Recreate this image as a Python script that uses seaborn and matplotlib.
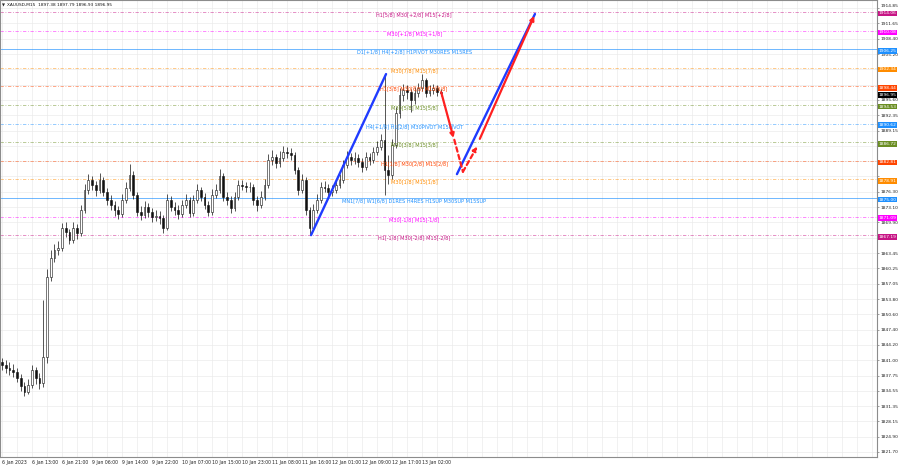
import numpy as np
import pandas as pd
import seaborn as sns
import matplotlib.pyplot as plt
from matplotlib.transforms import blended_transform_factory

sns.set_style("white")
plt.rcParams['font.family'] = ['DejaVu Sans']

# XAUUSD hourly candles (bar 0 = 6 Jan 2023)
first_open = 1840.5
closes = [1840.0, 1839.3, 1838.9, 1838.5, 1837.2, 1835.5, 1834.3, 1835.8, 1838.9, 1837.2,
          1836.2, 1841.6, 1858.5, 1862.4, 1864.1, 1864.5, 1868.7, 1867.9, 1866.2, 1868.7,
          1867.6, 1872.5, 1876.7, 1878.8, 1877.7, 1876.7, 1878.8, 1876.3, 1874.6, 1873.5,
          1872.5, 1871.6, 1874.6, 1877.1, 1879.8, 1875.6, 1872.1, 1871.4, 1873.1, 1872.1,
          1871.0, 1871.2, 1870.8, 1868.7, 1874.6, 1873.1, 1872.5, 1871.6, 1873.5, 1874.6,
          1871.9, 1874.6, 1876.7, 1875.2, 1873.5, 1872.1, 1875.6, 1876.7, 1879.6, 1875.2,
          1874.6, 1872.9, 1875.2, 1877.7, 1877.5, 1877.3, 1877.3, 1874.6, 1873.5, 1875.2,
          1877.7, 1883.0, 1883.6, 1882.3, 1883.4, 1884.6, 1884.4, 1884.0, 1880.9, 1876.7,
          1878.8, 1872.5, 1868.7, 1872.5, 1874.6, 1877.3, 1877.1, 1876.3, 1876.7, 1877.7,
          1878.8, 1881.9, 1883.6, 1883.0, 1883.4, 1882.5, 1881.5, 1883.6, 1883.0, 1884.6,
          1885.7, 1887.2, 1880.9, 1879.8, 1886.1, 1892.8, 1896.6, 1897.7, 1897.2, 1895.6,
          1897.0, 1898.1, 1899.8, 1897.0, 1897.7, 1898.1, 1897.2, 1896.95]
highs = [1841.5, 1841.0, 1840.6, 1840.2, 1839.4, 1838.0, 1836.4, 1837.0, 1840.0, 1839.6,
         1838.3, 1853.6, 1860.2, 1864.0, 1865.3, 1866.0, 1869.8, 1869.9, 1868.5, 1869.9,
         1869.6, 1873.6, 1878.0, 1880.0, 1879.6, 1878.6, 1880.3, 1879.5, 1877.0, 1875.6,
         1874.4, 1873.4, 1875.8, 1878.4, 1882.2, 1880.6, 1876.2, 1873.3, 1874.4, 1874.0,
         1873.0, 1872.4, 1872.2, 1871.4, 1875.8, 1875.5, 1874.2, 1873.5, 1874.6, 1875.8,
         1875.3, 1875.6, 1877.9, 1877.4, 1876.0, 1874.3, 1876.8, 1878.0, 1881.0, 1880.2,
         1876.2, 1875.4, 1876.3, 1878.8, 1878.7, 1878.4, 1878.3, 1877.9, 1875.5, 1876.4,
         1879.0, 1884.2, 1885.0, 1884.3, 1884.8, 1886.0, 1885.6, 1885.4, 1884.6, 1881.6,
         1880.0, 1879.4, 1873.2, 1873.7, 1875.8, 1878.4, 1878.5, 1878.0, 1877.8, 1878.7,
         1880.0, 1883.0, 1884.8, 1884.5, 1884.6, 1884.2, 1883.3, 1884.7, 1884.5, 1885.8,
         1887.0, 1888.4, 1901.0, 1884.0, 1887.3, 1894.0, 1898.0, 1898.9, 1898.6, 1897.9,
         1898.2, 1899.2, 1901.1, 1900.2, 1898.8, 1899.0, 1898.6, 1897.79]
lows = [1839.0, 1838.2, 1837.8, 1837.4, 1836.3, 1834.6, 1833.5, 1833.9, 1835.2, 1836.0,
        1835.0, 1835.4, 1840.3, 1857.6, 1861.5, 1863.0, 1863.8, 1866.8, 1865.3, 1865.6,
        1866.4, 1867.0, 1871.8, 1875.9, 1876.6, 1875.4, 1876.0, 1875.4, 1873.6, 1872.4,
        1871.3, 1870.5, 1871.0, 1874.0, 1876.5, 1874.7, 1871.2, 1870.3, 1870.8, 1871.0,
        1870.0, 1870.1, 1869.6, 1867.6, 1868.2, 1872.2, 1871.4, 1870.6, 1871.0, 1872.8,
        1871.0, 1871.3, 1874.0, 1874.3, 1872.6, 1871.2, 1871.5, 1874.9, 1876.0, 1874.4,
        1873.6, 1871.8, 1872.2, 1874.6, 1876.6, 1876.3, 1876.2, 1873.5, 1872.2, 1872.9,
        1874.6, 1877.0, 1882.0, 1881.3, 1881.6, 1882.8, 1883.4, 1882.9, 1880.0, 1875.6,
        1876.0, 1871.4, 1867.4, 1868.0, 1871.9, 1874.0, 1876.2, 1875.4, 1875.5, 1876.0,
        1877.0, 1878.2, 1881.2, 1882.0, 1882.2, 1881.5, 1880.4, 1880.9, 1882.0, 1882.4,
        1884.0, 1885.0, 1875.6, 1878.0, 1879.0, 1885.4, 1891.8, 1895.4, 1895.8, 1893.0,
        1894.8, 1896.2, 1897.4, 1896.2, 1896.3, 1896.9, 1896.4, 1896.5]

date_labels = ["6 Jan 2023", "6 Jan 13:00", "6 Jan 21:00", "9 Jan 06:00", "9 Jan 14:00",
               "9 Jan 22:00", "10 Jan 07:00", "10 Jan 15:00", "10 Jan 23:00", "11 Jan 08:00",
               "11 Jan 16:00", "12 Jan 01:00", "12 Jan 09:00", "12 Jan 17:00", "13 Jan 02:00"]
price_ticks = [1914.85, 1911.65, 1908.40, 1905.20, 1902.00, 1898.80, 1895.60, 1892.35,
               1889.15, 1885.95, 1882.75, 1879.55, 1876.30, 1873.10, 1869.90, 1866.65,
               1863.45, 1860.25, 1857.05, 1853.80, 1850.60, 1847.40, 1844.20, 1841.00,
               1837.75, 1834.55, 1831.35, 1828.15, 1824.90, 1821.70]

# Murrey math levels
level_prices = [1914.06, 1910.08, 1906.25, 1902.34, 1898.44, 1894.53, 1890.62,
                1886.72, 1882.81, 1878.91, 1875.00, 1871.09, 1867.19]
level_texts = ["H1[5/8] M30[+2/8] M15[+2/8]", "M30[+1/8] M15[+1/8]",
               "D1[+1/8] H4[+2/8] H1PIVOT M30RES M15RES", "M30[7/8] M15[7/8]",
               "H1[3/8] M30[6/8] M15[6/8]", "M30[5/8] M15[5/8]",
               "H4[+1/8] H1[2/8] M30PIVOT M15PIVOT", "M30[3/8] M15[3/8]",
               "H1[1/8] M30[2/8] M15[2/8]", "M30[1/8] M15[1/8]",
               "MN1[7/8] W1[6/8] D1RES H4RES H1SUP M30SUP M15SUP",
               "M30[-1/8] M15[-1/8]", "H1[-1/8] M30[-2/8] M15[-2/8]"]
level_colors = ["#c71585", "#ff00ff", "#1e90ff", "#ff8c00", "#ff4500", "#6b8e23", "#1e90ff",
                "#6b8e23", "#ff4500", "#ff8c00", "#1e90ff", "#ff00ff", "#c71585"]
level_solid = [False, False, True, False, False, False, False,
               False, False, False, True, False, False]

# hand drawn objects (bar index, price)
blue_x = [[82.4, 102.4], [121.3, 142.1]]
blue_y = [[1867.2, 1901.0], [1880.0, 1913.6]]
red_solid = [[(117.1, 1897.2), (120.4, 1887.6)], [(127.4, 1887.4), (141.9, 1913.2)]]
red_dashed = [[(120.6, 1887.2), (122.9, 1880.5)], [(122.9, 1880.5), (126.7, 1885.8)]]

last_price = 1896.95

n = len(closes)
df = pd.DataFrame({'bar': np.arange(n), 'close': closes, 'high': highs, 'low': lows})
df['open'] = [first_open] + closes[:-1]

fig = plt.figure(figsize=(9, 4.68), dpi=100)
ax = fig.add_axes([0.0, 11 / 468, 877 / 900, 457 / 468])
ax.set_xlim(-0.53, 233.3)
ax.set_ylim(1820.65, 1916.54)

# grid
ax.set_xticks(np.arange(0, 234, 4), minor=True)
ax.grid(True, which='both', axis='x', color='#ebebeb', lw=0.5, zorder=0)
ax.grid(True, axis='y', color='#ebebeb', lw=0.5, zorder=0)

# levels
for p, t, c, s in zip(level_prices, level_texts, level_colors, level_solid):
    ls = '-' if s else (0, (4, 2, 1, 2))
    ax.axhline(p, color=c, lw=0.6, ls=ls, alpha=0.75 if s else 0.55, zorder=1)
    ax.text(109.9, p - 0.6, t, ha='center', va='center', fontsize=3.6, color=c, zorder=4)

# candles
ax.vlines(df['bar'], df['low'], df['high'], color='#111111', lw=0.5, zorder=2)
bull = df['close'] >= df['open']
ax.bar(df['bar'][bull], (df['close'] - df['open'])[bull], bottom=df['open'][bull],
       width=0.5, color='white', edgecolor='#111111', lw=0.4, zorder=3)
ax.bar(df['bar'][~bull], (df['close'] - df['open'])[~bull], bottom=df['open'][~bull],
       width=0.5, color='#111111', edgecolor='#111111', lw=0.4, zorder=3)

# trend lines and arrows
for xs, ys in zip(blue_x, blue_y):
    sns.lineplot(x=xs, y=ys, ax=ax, color='#1f3bff', lw=1.7, sort=False,
                 estimator=None, legend=False, zorder=5)
for (x0, y0), (x1, y1) in red_solid:
    ax.annotate("", xy=(x1, y1), xytext=(x0, y0), zorder=6,
                arrowprops=dict(arrowstyle='-|>', color='#ff2020', lw=1.6,
                                mutation_scale=6, shrinkA=0, shrinkB=0))
for i, ((x0, y0), (x1, y1)) in enumerate(red_dashed):
    ax.annotate("", xy=(x1, y1), xytext=(x0, y0), zorder=6,
                arrowprops=dict(arrowstyle='-|>' if i == 1 else '-', color='#ff2020',
                                lw=1.6, ls=(0, (2, 1.5)), mutation_scale=6,
                                shrinkA=0, shrinkB=0))

# axes ticks (labels hidden where a price box covers them, as on the terminal)
box_prices = level_prices + [last_price]
tick_text = []
for v in price_ticks:
    covered = min(abs(v - b) for b in box_prices) < 0.78
    tick_text.append('' if covered else f"{v:.2f}")
ax.yaxis.tick_right()
ax.set_yticks(price_ticks)
ax.set_yticklabels(tick_text, fontsize=3.2, color='#222222')
ax.set_xticks(np.arange(0, 8 * len(date_labels), 8))
ax.set_xticklabels(date_labels, fontsize=3.3, color='#222222', ha='left')
ax.tick_params(axis='both', which='major', length=1.5, width=0.5, pad=1, color='#777777')
ax.tick_params(which='minor', length=0)
ax.get_yticklabels()[0].set_va('bottom')
for sp in ax.spines.values():
    sp.set_color('#8c8c8c')
    sp.set_linewidth(0.8)

# price boxes on the right scale (drawn a touch below the level, like the terminal)
tr = blended_transform_factory(ax.transAxes, ax.transData)
for p, c in zip(level_prices, level_colors):
    ax.text(1.0 + 1.5 / 877, p - 0.35, f"{p:.2f}", transform=tr, fontsize=3.2,
            color='white', ha='left', va='center', clip_on=False, zorder=10,
            bbox=dict(boxstyle='square,pad=0.18', fc=c, ec='none'))
ax.text(1.0 + 1.5 / 877, last_price - 0.35, f"{last_price:.2f}", transform=tr, fontsize=3.2,
        color='white', ha='left', va='center', clip_on=False, zorder=10,
        bbox=dict(boxstyle='square,pad=0.18', fc='black', ec='none'))

# header
ax.text(0.002, 0.993, "\u25bc", transform=ax.transAxes, fontsize=2.8, va='top', ha='left')
ax.text(0.008, 0.993, "XAUUSD,M15  1897.38 1897.79 1896.93 1896.95", transform=ax.transAxes,
        fontsize=3.1, va='top', ha='left', color='#111111')

fig.savefig('out.png', dpi=100, facecolor='white')
